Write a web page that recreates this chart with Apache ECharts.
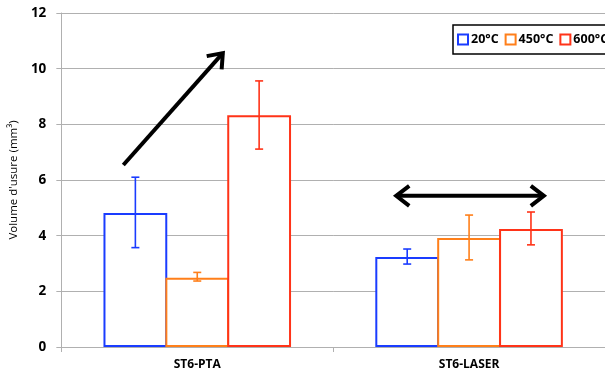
<!DOCTYPE html>
<html><head><meta charset="utf-8">
<script src="https://cdn.jsdelivr.net/npm/echarts@6/dist/echarts.min.js"></script>
<style>html,body{margin:0;padding:0;background:#fff}#c{width:605px;height:378px}</style>
</head><body><div id="c"></div>
<script>
const categories = ['ST6-PTA', 'ST6-LASER'];
const seriesNames = ['20°C', '450°C', '600°C'];
const values20 = [4.81, 3.23];
const low20 = [3.57, 2.98];
const high20 = [6.10, 3.52];
const values450 = [2.49, 3.92];
const low450 = [2.37, 3.13];
const high450 = [2.68, 4.74];
const values600 = [8.33, 4.24];
const low600 = [7.11, 3.67];
const high600 = [9.56, 4.85];
const arrowUp = [[0.228, 6.54], [0.594, 10.56]];
const arrowBoth = [[1.232, 5.43], [1.775, 5.43]];

const colors = ['#1a3cff', '#ff7f1a', '#ff3318'];
const catGap = 0.31;
const barGapFrac = -0.03;

function errSeries(idx, low, high) {
  return {
    type: 'custom', name: seriesNames[idx] + ' err', xAxisIndex: 0, z: 5,
    data: categories.map((c, i) => [i, low[i], high[i]]),
    renderItem: function (params, api) {
      const band = api.size([1, 0])[0];
      const barW = band * (1 - catGap) / (3 + 2 * barGapFrac);
      const off = (idx - 1) * barW * (1 + barGapFrac);
      const p1 = api.coord([api.value(0), api.value(1)]);
      const p2 = api.coord([api.value(0), api.value(2)]);
      const x = p1[0] + off;
      const cap = 4;
      const st = { stroke: colors[idx], lineWidth: 1.6 };
      return { type: 'group', children: [
        { type: 'line', shape: { x1: x, y1: p1[1], x2: x, y2: p2[1] }, style: st },
        { type: 'line', shape: { x1: x - cap, y1: p1[1], x2: x + cap, y2: p1[1] }, style: st },
        { type: 'line', shape: { x1: x - cap, y1: p2[1], x2: x + cap, y2: p2[1] }, style: st }
      ]};
    }
  };
}

function chevron(tip, from) {
  const dx = tip[0] - from[0], dy = tip[1] - from[1];
  const L = Math.sqrt(dx * dx + dy * dy);
  const ux = dx / L, uy = dy / L, nx = -uy, ny = ux;
  const len = 13, hw = 10;
  return { type: 'polyline', shape: { points: [
    [tip[0] - len * ux + hw * nx, tip[1] - len * uy + hw * ny],
    tip,
    [tip[0] - len * ux - hw * nx, tip[1] - len * uy - hw * ny]
  ]}, style: { stroke: '#000', lineWidth: 4, fill: null, lineJoin: 'miter' } };
}

function arrowSeries(pts, both) {
  return {
    type: 'custom', xAxisIndex: 1, z: 10, silent: true,
    data: [[pts[0][0], pts[0][1], pts[1][0], pts[1][1]]],
    renderItem: function (params, api) {
      const a = api.coord([api.value(0), api.value(1)]);
      const b = api.coord([api.value(2), api.value(3)]);
      const children = [
        { type: 'line', shape: { x1: a[0], y1: a[1], x2: b[0], y2: b[1] }, style: { stroke: '#000', lineWidth: 4 } },
        chevron(b, a)
      ];
      if (both) children.push(chevron(a, b));
      return { type: 'group', children: children };
    }
  };
}

function barSeries(idx, vals) {
  return {
    type: 'bar', name: seriesNames[idx], data: vals,
    barGap: (barGapFrac * 100) + '%', barCategoryGap: (catGap * 100) + '%',
    itemStyle: { color: '#ffffff', borderColor: colors[idx], borderWidth: 2 },
    emphasis: { disabled: true }
  };
}

const chart = echarts.init(document.getElementById('c'));
chart.setOption({
  animation: false,
  textStyle: { fontFamily: 'Open Sans' },
  grid: { left: 58, top: 13, bottom: 31, width: 552, containLabel: false },
  legend: {
    data: seriesNames, left: 453, top: 25, width: 400, orient: 'horizontal',
    borderColor: '#000', borderWidth: 1.5, padding: [8, 8, 8, 4],
    itemWidth: 10, itemHeight: 10, itemGap: 6, icon: 'rect',
    textStyle: { fontWeight: 'bold', fontSize: 12.5, color: '#000', fontFamily: 'Open Sans', padding: [0, 0, 0, -2] }
  },
  xAxis: [{
    type: 'category', data: categories,
    axisLine: { lineStyle: { color: '#b0b0b0', width: 1 } },
    axisTick: { show: true, length: 5, lineStyle: { color: '#b0b0b0' } },
    axisLabel: { fontWeight: 'bold', fontSize: 12, color: '#000', margin: 12 }
  }, {
    type: 'value', min: 0, max: 2, show: false
  }],
  yAxis: {
    type: 'value', min: 0, max: 12, interval: 2,
    name: "Volume d'usure (mm³)", nameLocation: 'middle', nameGap: 34,
    nameTextStyle: { fontSize: 11.5, color: '#000' },
    axisLine: { show: true, lineStyle: { color: '#b0b0b0' } },
    axisTick: { show: true, length: 5, lineStyle: { color: '#b0b0b0' } },
    axisLabel: { fontWeight: 'bold', fontSize: 13.5, color: '#000', margin: 15 },
    splitLine: { lineStyle: { color: '#b0b0b0' } }
  },
  series: [
    barSeries(0, values20), barSeries(1, values450), barSeries(2, values600),
    errSeries(0, low20, high20), errSeries(1, low450, high450), errSeries(2, low600, high600),
    arrowSeries(arrowUp, false), arrowSeries(arrowBoth, true)
  ]
});
</script></body></html>
